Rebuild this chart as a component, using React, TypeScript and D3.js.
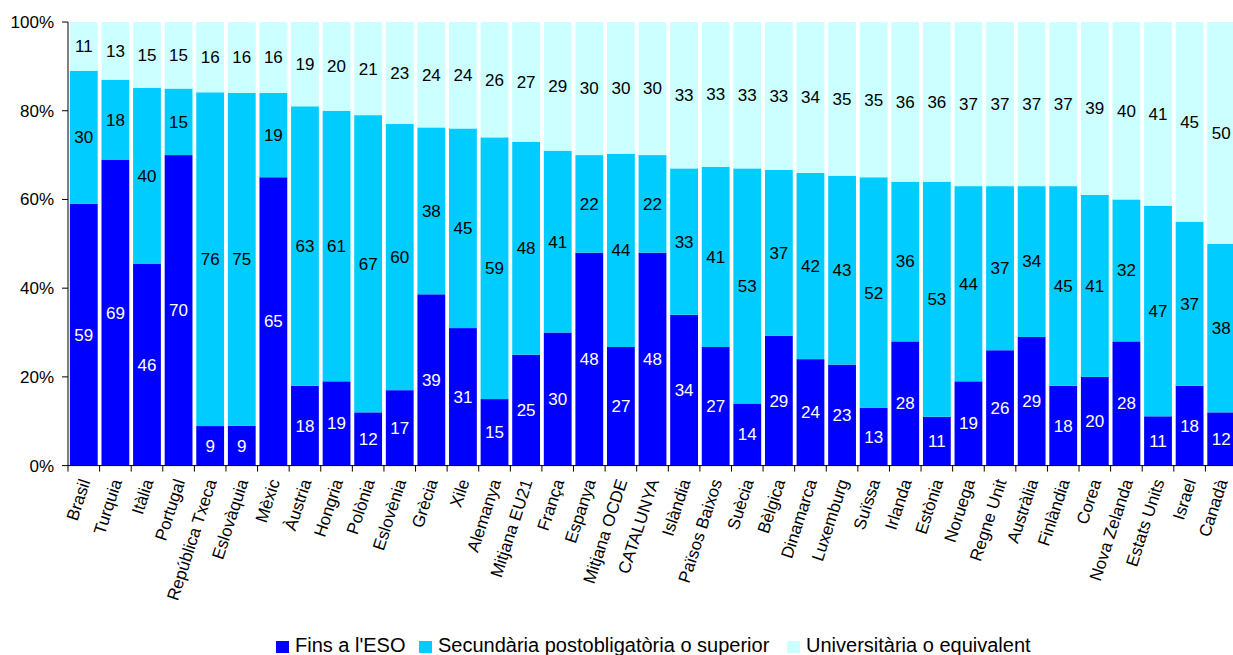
import React from "react";
import * as d3 from "d3";

const categories = ["Brasil","Turquia","Itàlia","Portugal","República Txeca","Eslovàquia","Mèxic","Àustria","Hongria","Polònia","Eslovènia","Grècia","Xile","Alemanya","Mitjana EU21","França","Espanya","Mitjana OCDE","CATALUNYA","Islàndia","Països Baixos","Suècia","Bèlgica","Dinamarca","Luxemburg","Suïssa","Irlanda","Estònia","Noruega","Regne Unit","Austràlia","Finlàndia","Corea","Nova Zelanda","Estats Units","Israel","Canadà"];
const finsESO = [59,69,46,70,9,9,65,18,19,12,17,39,31,15,25,30,48,27,48,34,27,14,29,24,23,13,28,11,19,26,29,18,20,28,11,18,12];
const secundaria = [30,18,40,15,76,75,19,63,61,67,60,38,45,59,48,41,22,44,22,33,41,53,37,42,43,52,36,53,44,37,34,45,41,32,47,37,38];
const universitaria = [11,13,15,15,16,16,16,19,20,21,23,24,24,26,27,29,30,30,30,33,33,33,33,34,35,35,36,36,37,37,37,37,39,40,41,45,50];
const seriesNames = ["Fins a l'ESO","Secundària postobligatòria o superior","Universitària o equivalent"];
const seriesColors = ["#0000FF","#00CCFF","#CCFFFF"];
const yTicks = [0,20,40,60,80,100];

const W = 1233, H = 655;
const left = 68, right = 1237, top = 22, bottom = 465.6;
const FONT = "Arial, 'Liberation Sans', sans-serif";

export default function App() {
  const x = d3.scaleBand<string>().domain(categories).range([left, right]).paddingInner(0.12).paddingOuter(0.06);
  const step = x.step();
  const y = d3.scaleLinear().domain([0, 100]).range([bottom, top]);
  const rows = categories.map((c, i) => {
    const vals = [finsESO[i], secundaria[i], universitaria[i]];
    const sum = d3.sum(vals);
    let acc = 0;
    return vals.map((v, k) => {
      const y0 = acc;
      acc += (v / sum) * 100;
      return { c, k, v, y0, y1: acc };
    });
  });

  const legendItems = [
    { x: 276, tx: 295 },
    { x: 419, tx: 438 },
    { x: 787, tx: 806 },
  ];

  return (
    <svg width={W} height={H} style={{ position: "absolute", left: 0, top: 0, background: "#fff" }} fontFamily={FONT}>
      {rows.map((segs, i) => (
        <g key={i}>
          {segs.map((s) => (
            <rect key={s.k} x={x(s.c)!} width={x.bandwidth()} y={y(s.y1)} height={y(s.y0) - y(s.y1)} fill={seriesColors[s.k]} />
          ))}
          {segs.map((s) => (
            <text key={"t" + s.k} x={x(s.c)! + x.bandwidth() / 2} y={(y(s.y0) + y(s.y1)) / 2} dy="0.35em" textAnchor="middle" fontSize={17} fill={s.k === 0 ? "#fff" : "#000"}>{s.v}</text>
          ))}
        </g>
      ))}
      {/* y axis */}
      <line x1={left} x2={left} y1={top} y2={bottom} stroke="#000" />
      {yTicks.map((t) => (
        <g key={t}>
          <line x1={left - 6} x2={left} y1={y(t)} y2={y(t)} stroke="#000" />
          <text x={left - 14} y={y(t)} dy="0.35em" textAnchor="end" fontSize={17} fill="#000">{t}%</text>
        </g>
      ))}
      {/* x axis */}
      <line x1={left} x2={right} y1={bottom} y2={bottom} stroke="#000" />
      {categories.map((c, i) => (
        <line key={"xt" + i} x1={left + i * step} x2={left + i * step} y1={bottom} y2={bottom + 6} stroke="#000" />
      ))}
      {categories.map((c) => (
        <text key={"xl" + c} transform={`translate(${x(c)! + x.bandwidth() / 2 + 1},${bottom + 14}) rotate(-72)`} textAnchor="end" dy="0.35em" fontSize={17} fill="#000">{c}</text>
      ))}
      {/* legend */}
      {seriesNames.map((n, k) => (
        <g key={"lg" + k}>
          <rect x={legendItems[k].x} y={641} width={13} height={12} fill={seriesColors[k]} />
          <text x={legendItems[k].tx} y={651.7} fontSize={20} fill="#000">{n}</text>
        </g>
      ))}
    </svg>
  );
}
